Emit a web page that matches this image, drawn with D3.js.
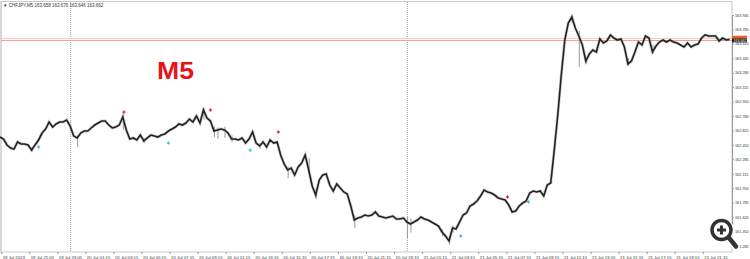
<!DOCTYPE html>
<html>
<head>
<meta charset="utf-8" />
<title>CHFJPY M5</title>
<script src="https://d3js.org/d3.v7.min.js"></script>
<style>
  body { margin: 0; padding: 0; background: #fff; }
  svg { display: block; font-family: "Liberation Sans", Arial, sans-serif; }
</style>
</head>
<body>
<svg id="chart" width="750" height="259"></svg>
<script>
// closes, one every 3 bars of 5 minutes
const closes = [
  162.540, 162.517, 162.448, 162.413, 162.402, 162.483, 162.460, 162.460, 162.448, 162.390,
  162.448, 162.506, 162.586, 162.632, 162.713, 162.655, 162.690, 162.713, 162.713, 162.736,
  162.667, 162.552, 162.529, 162.586, 162.609, 162.609, 162.644, 162.678, 162.701, 162.724,
  162.724, 162.678, 162.644, 162.655, 162.678, 162.770, 162.621, 162.517, 162.529, 162.506,
  162.563, 162.494, 162.529, 162.563, 162.552, 162.540, 162.563, 162.575, 162.609, 162.632,
  162.655, 162.690, 162.678, 162.701, 162.747, 162.713, 162.782, 162.701, 162.851, 162.759,
  162.724, 162.609, 162.621, 162.632, 162.621, 162.586, 162.517, 162.517, 162.506, 162.529,
  162.471, 162.517, 162.598, 162.471, 162.437, 162.483, 162.425, 162.506, 162.471, 162.483,
  162.333, 162.229, 162.160, 162.183, 162.103, 162.195, 162.241, 162.333, 162.160, 161.976,
  161.872, 162.045, 162.103, 162.114, 161.987, 161.918, 161.999, 161.953, 161.907, 161.884,
  161.746, 161.584, 161.607, 161.619, 161.642, 161.630, 161.642, 161.677, 161.630, 161.619,
  161.607, 161.619, 161.630, 161.596, 161.596, 161.607, 161.561, 161.538, 161.561, 161.584,
  161.619, 161.596, 161.584, 161.561, 161.538, 161.515, 161.446, 161.400, 161.343, 161.492,
  161.481, 161.561, 161.642, 161.665, 161.746, 161.769, 161.803, 161.861, 161.930, 161.907,
  161.895, 161.872, 161.838, 161.826, 161.815, 161.757, 161.677, 161.688, 161.746, 161.780,
  161.803, 161.895, 161.918, 161.907, 161.918, 161.861, 161.987, 162.011, 162.390, 162.794,
  163.254, 163.657, 163.853, 163.922, 163.795, 163.703, 163.600, 163.415, 163.496, 163.542,
  163.519, 163.669, 163.623, 163.646, 163.715, 163.680, 163.657, 163.669, 163.577, 163.381,
  163.415, 163.519, 163.634, 163.600, 163.703, 163.680, 163.519, 163.588, 163.634, 163.657,
  163.634, 163.657, 163.634, 163.623, 163.600, 163.577, 163.623, 163.577, 163.600, 163.611,
  163.680, 163.715, 163.703, 163.703, 163.703, 163.646, 163.680, 163.657, 163.662
];
const barStep = 3;

// [sample index, high, low] for visible wicks
const wicks = [
  [9, 162.410, 162.370], [22, 162.560, 162.425], [35, 162.817, 162.620], [41, 162.530, 162.470],
  [58, 162.874, 162.740], [61, 162.660, 162.540], [62, 162.650, 162.520], [64, 162.660, 162.530],
  [66, 162.560, 162.480], [74, 162.470, 162.400], [82, 162.200, 162.068], [88, 162.300, 162.120],
  [90, 161.950, 161.826], [101, 161.640, 161.492], [116, 161.620, 161.377], [117, 161.600, 161.440],
  [126, 161.480, 161.400], [128, 161.400, 161.297], [129, 161.520, 161.440], [163, 163.950, 163.850],
  [165, 163.760, 163.346], [167, 163.450, 163.380], [179, 163.450, 163.360], [186, 163.600, 163.500]
];

const redMarks = [[106, 162.828], [180, 162.851], [238, 162.598], [434, 161.849]];
const cyanMarks = [[33, 162.425], [144, 162.471], [214, 162.390], [394, 161.400], [452, 161.792]];

const priceTicks = [163.945, 163.780, 163.615, 163.445, 163.280, 163.115, 162.950, 162.780,
  162.615, 162.450, 162.285, 162.115, 161.950, 161.785, 161.620, 161.450, 161.285];

const timeTickBars = [1, 25, 49, 73, 97, 121, 145, 169, 193, 217, 241, 265, 289, 313, 337, 361,
  385, 409, 433, 457, 481, 505, 529, 553, 577, 601];
const timeTickLabels = ["19 Jul 2023", "19 Jul 21:05", "19 Jul 23:05", "20 Jul 01:15", "20 Jul 03:15",
  "20 Jul 05:15", "20 Jul 07:15", "20 Jul 09:15", "20 Jul 11:15", "20 Jul 13:15", "20 Jul 15:15",
  "20 Jul 17:15", "20 Jul 19:15", "20 Jul 21:15", "20 Jul 23:15", "21 Jul 01:15", "21 Jul 03:15",
  "21 Jul 05:15", "21 Jul 07:15", "21 Jul 09:15", "21 Jul 11:15", "21 Jul 13:15", "21 Jul 15:15",
  "21 Jul 17:15", "21 Jul 19:15", "21 Jul 21:15"];

const separatorBars = [60, 348];
const bid = 163.662, ask = 163.676;
const header = "CHFJPY,M5  163.658 163.676 163.646 163.662";

const svg = d3.select("#chart");
const plotRight = 732, plotBottom = 252;

const x = d3.scaleLinear().domain([0, 626]).range([0, plotRight]);
const y = d3.scaleLinear().domain([161.285, 163.945]).range([246, 15]);

// frame
svg.append("rect")
  .attr("x", 0.5).attr("y", 1.5)
  .attr("width", plotRight - 0.5).attr("height", plotBottom - 1.5)
  .attr("fill", "none").attr("stroke", "#c8c8c8");
svg.append("line")
  .attr("x1", 1).attr("x2", 1).attr("y1", 1).attr("y2", plotBottom)
  .attr("stroke", "#d8d8d8").attr("stroke-width", 2);

// day separators
svg.selectAll(".sep").data(separatorBars).enter().append("line")
  .attr("x1", d => x(d) + 0.5).attr("x2", d => x(d) + 0.5)
  .attr("y1", 2).attr("y2", plotBottom)
  .attr("stroke", "#a8a8a8").attr("stroke-dasharray", "1,1");

// price lines
svg.selectAll(".pl").data([ask, bid]).enter().append("line")
  .attr("x1", 1).attr("x2", plotRight)
  .attr("y1", d => Math.round(y(d)) + 0.5).attr("y2", d => Math.round(y(d)) + 0.5)
  .attr("stroke", (d, i) => i ? "#f6a090" : "#fbc8bc");

// header
svg.append("text").attr("x", 3).attr("y", 6.5)
  .attr("font-size", 4.5).attr("fill", "#333")
  .text("\u25BC " + header);

// M5 label
svg.append("text").attr("x", 157).attr("y", 79)
  .attr("font-size", 24).attr("font-weight", "bold").attr("fill", "#e8141c")
  .attr("textLength", 37).attr("lengthAdjust", "spacingAndGlyphs")
  .text("M5");

// wicks
svg.selectAll(".wick").data(wicks).enter().append("line")
  .attr("x1", d => x(d[0] * barStep) + 0.5).attr("x2", d => x(d[0] * barStep) + 0.5)
  .attr("y1", d => y(d[1])).attr("y2", d => y(d[2]))
  .attr("stroke", "#9a9a9a").attr("stroke-width", 1);

// price line
const line = d3.line().x((d, i) => x(i * barStep)).y(d => y(d));
svg.append("path").datum(closes)
  .attr("d", line)
  .attr("fill", "none").attr("stroke", "#a0a0a0").attr("stroke-width", 3)
  .attr("stroke-opacity", 0.5);
svg.append("path").datum(closes)
  .attr("d", line)
  .attr("fill", "none").attr("stroke", "#222").attr("stroke-width", 1.6)
  .attr("stroke-linejoin", "miter");

// fractal marks
function cross(sel, data, color) {
  const g = sel.selectAll(null).data(data).enter().append("g")
    .attr("transform", d => `translate(${x(d[0])},${y(d[1])})`);
  g.append("line").attr("x1", -1.6).attr("x2", 1.6).attr("stroke", color).attr("stroke-width", 1.2);
  g.append("line").attr("y1", -1.6).attr("y2", 1.6).attr("stroke", color).attr("stroke-width", 1.2);
}
cross(svg, redMarks, "#e8163c");
cross(svg, cyanMarks, "#22c8d8");

// right axis
const yAxis = d3.axisRight(y).tickValues(priceTicks).tickSize(2).tickPadding(1)
  .tickFormat(d3.format(".3f"));
const ya = svg.append("g").attr("transform", `translate(${plotRight},0)`).call(yAxis);
ya.select(".domain").attr("stroke", "#9a9a9a");
ya.selectAll("line").attr("stroke", "#9a9a9a");
ya.selectAll("text").attr("font-size", 3.8).attr("fill", "#333");

// bottom axis
const xAxis = d3.axisBottom(x).tickValues(timeTickBars).tickSize(2).tickPadding(1.5)
  .tickFormat((d, i) => timeTickLabels[i]);
const xa = svg.append("g").attr("transform", `translate(0,${plotBottom})`).call(xAxis);
xa.select(".domain").remove();
xa.selectAll("line").attr("stroke", "#9a9a9a");
xa.selectAll("text").attr("font-size", 4.3).attr("fill", "#333")
  .attr("text-anchor", "start").attr("dx", 1);

// price labels
svg.append("rect").attr("x", plotRight).attr("y", y(ask) - 2.6).attr("width", 15).attr("height", 3.2)
  .attr("fill", "#f05a24");
svg.append("rect").attr("x", plotRight).attr("y", y(bid) - 1).attr("width", 15).attr("height", 3.8)
  .attr("fill", "#1a1a1a");
svg.append("text").attr("x", plotRight + 1.5).attr("y", y(bid) + 2.3)
  .attr("font-size", 3.6).attr("fill", "#fff").text(bid.toFixed(3));

// magnifier icon
const mg = svg.append("g").attr("transform", "translate(721.5,230)");
mg.append("line").attr("x1", 6).attr("y1", 6).attr("x2", 14.5).attr("y2", 16.5)
  .attr("stroke", "#fff").attr("stroke-width", 7).attr("stroke-linecap", "round");
mg.append("circle").attr("r", 9.5).attr("fill", "#fff").attr("stroke", "#fff").attr("stroke-width", 6);
mg.append("line").attr("x1", 6).attr("y1", 6).attr("x2", 14.5).attr("y2", 16.5)
  .attr("stroke", "#333").attr("stroke-width", 4.5).attr("stroke-linecap", "round");
mg.append("circle").attr("r", 9.5).attr("fill", "#fff").attr("stroke", "#333").attr("stroke-width", 3.5);
mg.append("path").attr("d", "M-4.5,0H4.5M0,-4.5V4.5")
  .attr("stroke", "#333").attr("stroke-width", 3);
</script>
</body>
</html>
